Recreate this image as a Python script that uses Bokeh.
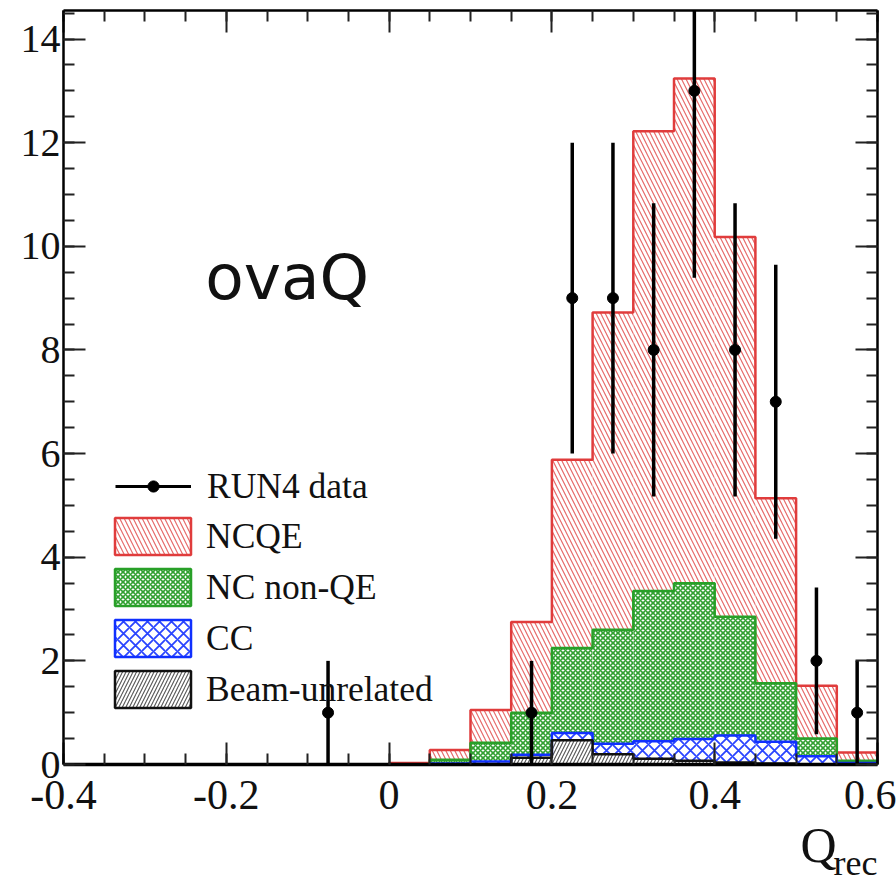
import numpy as np
from bokeh.plotting import figure
from bokeh.models import (Range1d, FixedTicker, LinearAxis, CustomJSTickFormatter,
                          Legend, LegendItem, Label)
from bokeh.embed import file_html
from bokeh.resources import INLINE

# ---------------- data ----------------
bin_low = -0.4
bin_width = 0.05
n_bins = 20

data_counts = [0, 0, 0, 0, 0, 0, 1, 0, 0, 0, 0, 1, 9, 9, 8, 13, 8, 7, 2, 1]

beam_unrelated = [0, 0, 0, 0, 0, 0, 0, 0, 0.00, 0.00, 0.00, 0.13, 0.47, 0.20, 0.11, 0.07, 0.04, 0.02, 0.00, 0.00]
cc = [0, 0, 0, 0, 0, 0, 0, 0, 0.00, 0.02, 0.06, 0.06, 0.14, 0.20, 0.34, 0.42, 0.52, 0.42, 0.16, 0.03]
nc_non_qe = [0, 0, 0, 0, 0, 0, 0, 0, 0.00, 0.07, 0.36, 0.81, 1.64, 2.20, 2.90, 3.01, 2.29, 1.13, 0.34, 0.04]
ncqe = [0, 0, 0, 0, 0, 0, 0, 0, 0.03, 0.19, 0.63, 1.75, 3.63, 6.12, 8.87, 9.74, 7.33, 3.57, 1.02, 0.16]

x_ticks = [-0.4, -0.2, 0.0, 0.2, 0.4, 0.6]
y_ticks = [0, 2, 4, 6, 8, 10, 12, 14]

legend_labels = ["RUN4 data", "NCQE", "NC non-QE", "CC", "Beam-unrelated"]
x_title_main = "Q"
x_title_sub = "rec"

# ---------------- derived ----------------
edges = bin_low + bin_width * np.arange(n_bins + 1)
left = edges[:-1]
right = edges[1:]
centers = 0.5 * (left + right)

s_beam = np.array(beam_unrelated)
s_cc = s_beam + np.array(cc)
s_ncnon = s_cc + np.array(nc_non_qe)
s_ncqe = s_ncnon + np.array(ncqe)

counts = np.array(data_counts, dtype=float)
mask = counts > 0
dx = centers[mask]
dy = counts[mask]
derr = np.sqrt(dy)

SERIF = "Liberation Serif"

p = figure(width=896, height=893, x_range=Range1d(-0.4, 0.6), y_range=Range1d(0, 14.55),
           output_backend="svg", toolbar_location=None,
           x_axis_location=None, y_axis_location=None,
           min_border_left=63, min_border_right=19, min_border_top=10, min_border_bottom=129)
p.xgrid.visible = False
p.ygrid.visible = False
p.outline_line_color = None
p.background_fill_color = "white"

styles = [
    # (cumulative, hatch pattern, hatch color, hatch scale, hatch weight, line color)
    (s_ncqe, "\\", "#e66a6a", 9, 1.2, "#e03c3c"),
    (s_ncnon, "x", "#30a030", 5, 1.6, "#28a028"),
    (s_cc, "x", "#2a45ff", 12, 1.8, "#1030ff"),
    (s_beam, "/", "#555555", 7, 1.1, "#111111"),
]

for cum, hp, hc, hs, hw, lc in styles:
    p.quad(left=left, right=right, bottom=0, top=cum, fill_color="white", line_color=None,
           hatch_pattern=hp, hatch_color=hc, hatch_scale=hs, hatch_weight=hw)

for cum, hp, hc, hs, hw, lc in styles:
    p.step(x=edges, y=np.append(cum, cum[-1]), mode="after", line_color=lc, line_width=2.5)

# data with Poisson errors
p.segment(x0=dx, y0=dy - derr, x1=dx, y1=dy + derr, line_color="black", line_width=3.5)
r_dot = p.scatter(x=dx, y=dy, marker="circle", size=11, fill_color="black", line_color="black")

# legend proxies placed outside the visible range
r_line = p.line(x=[-10, -9], y=[-10, -10], line_color="black", line_width=3)
r_cross = p.scatter(x=[-10], y=[-10], marker="cross", size=11, line_color="black", line_width=3)
box_renderers = []
for cum, hp, hc, hs, hw, lc in styles:
    r = p.quad(left=[-10], right=[-9], bottom=[-10], top=[-9], fill_color="white",
               line_color=lc, line_width=2.5,
               hatch_pattern=hp, hatch_color=hc, hatch_scale=hs, hatch_weight=hw)
    box_renderers.append(r)

legA = Legend(items=[LegendItem(label=legend_labels[0], renderers=[r_line, r_cross, r_dot])],
              location=(52, 257), glyph_width=76, glyph_height=28, label_standoff=16,
              padding=0, margin=0, border_line_color=None, background_fill_alpha=0,
              label_text_font=SERIF, label_text_font_size="35.5px", label_text_color="#111111")
legB = Legend(items=[LegendItem(label=legend_labels[i + 1], renderers=[box_renderers[i]]) for i in range(4)],
              location=(42, 52), glyph_width=95, glyph_height=46, label_standoff=6, spacing=5,
              padding=0, margin=0, border_line_color=None, background_fill_alpha=0,
              label_text_font=SERIF, label_text_font_size="35.5px", label_text_color="#111111")
p.add_layout(legA)
p.add_layout(legB)

# axes (ROOT style: ticks inside, on all four sides)
xt = FixedTicker(ticks=x_ticks, minor_ticks=list(bin_low + bin_width * np.arange(n_bins + 1)))
yt = FixedTicker(ticks=y_ticks, minor_ticks=list(0.5 * np.arange(30)))

xfmt = CustomJSTickFormatter(code="if (Math.abs(tick) < 1e-9) { return '0'; } return tick.toFixed(1);")
blank = CustomJSTickFormatter(code="return '';")

def style_axis(ax, line_w=2):
    ax.major_tick_in = 22
    ax.major_tick_out = 0
    ax.minor_tick_in = 11
    ax.minor_tick_out = 0
    ax.axis_line_width = line_w
    ax.axis_line_color = "black"
    ax.major_tick_line_width = 2
    ax.minor_tick_line_width = 2
    ax.major_tick_line_color = "#222222"
    ax.minor_tick_line_color = "#222222"
    ax.major_label_text_font = SERIF
    ax.major_label_text_font_size = "42px"
    ax.major_label_text_color = "#111111"

xb = LinearAxis(ticker=xt, formatter=xfmt)
style_axis(xb, 3.5)
xb.major_label_standoff = 16
p.add_layout(xb, "below")

yl = LinearAxis(ticker=yt)
style_axis(yl, 2.5)
yl.major_label_text_font_size = "40px"
yl.major_label_standoff = 3
p.add_layout(yl, "left")

xa = LinearAxis(ticker=xt, formatter=blank)
style_axis(xa, 2.5)
xa.major_label_standoff = 0
p.add_layout(xa, "above")

yr = LinearAxis(ticker=yt, formatter=blank)
style_axis(yr, 2.5)
yr.major_label_standoff = 0
p.add_layout(yr, "right")

# x-axis title "Q" with subscript "rec", placed via label-only axes under the main one
def title_axis(text, pos, size, standoff):
    ax = LinearAxis(ticker=FixedTicker(ticks=[pos], minor_ticks=[]),
                    formatter=CustomJSTickFormatter(code="return %r;" % text))
    ax.axis_line_color = None
    ax.major_tick_line_color = None
    ax.minor_tick_line_color = None
    ax.major_tick_in = 0
    ax.major_tick_out = 0
    ax.minor_tick_in = 0
    ax.minor_tick_out = 0
    ax.major_label_text_font = SERIF
    ax.major_label_text_font_size = size
    ax.major_label_text_color = "#111111"
    ax.major_label_standoff = standoff
    return ax

p.add_layout(title_axis(x_title_main, 0.5275, "50px", 5), "below")
p.add_layout(title_axis(x_title_sub, 0.573, "36px", -33), "below")

# annotations
p.add_layout(Label(x=-0.226, y=9.4, text="ovaQ", text_font="DejaVu Sans",
                   text_font_size="63px", text_color="#111111", text_baseline="alphabetic"))

open("out.html", "w").write(file_html(p, INLINE))
